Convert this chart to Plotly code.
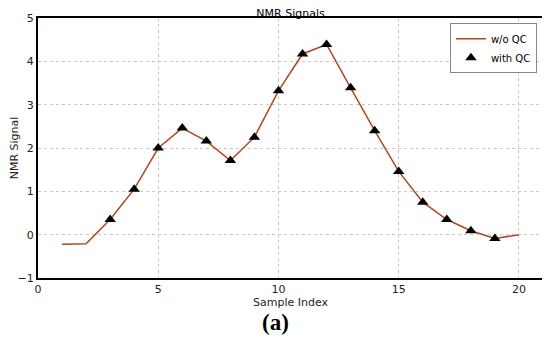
import plotly.graph_objects as go

sample_index = list(range(1, 21))
signal_wo_qc = [-0.22, -0.21, 0.35, 1.05, 2.0, 2.46, 2.16, 1.71, 2.25, 3.32,
                4.17, 4.39, 3.39, 2.40, 1.46, 0.75, 0.35, 0.09, -0.09, 0.0]
qc_index = list(range(3, 20))
signal_with_qc = [0.35, 1.05, 2.0, 2.46, 2.16, 1.71, 2.25, 3.32,
                  4.17, 4.39, 3.39, 2.40, 1.46, 0.75, 0.35, 0.09, -0.09]

x_ticks = [0, 5, 10, 15, 20]
y_ticks = [-1, 0, 1, 2, 3, 4, 5]

# page body has an 8px margin, so the figure is drawn 8px right/down
OFF = 8
W, H = 550 - OFF, 346 - OFF
L, T = 38 - OFF, 18 - OFF
R = W - (543 - OFF)
B = H - (278 - OFF)
pw = W - L - R

fig = go.Figure()
fig.add_trace(go.Scatter(x=sample_index, y=signal_wo_qc, mode="lines", name="w/o QC",
                         line=dict(color="#b0461f", width=1.5)))
fig.add_trace(go.Scatter(x=qc_index, y=signal_with_qc, mode="markers", name="with QC",
                         marker=dict(symbol="triangle-up", size=10, color="black")))

font = dict(family="DejaVu Sans", size=11, color="#222")
fig.update_layout(
    width=W, height=H,
    margin=dict(l=L, r=R, t=T, b=B, autoexpand=False),
    paper_bgcolor="white", plot_bgcolor="white",
    font=font,
    title=dict(text="NMR Signals", x=0.5, xanchor="center", xref="paper",
               y=1 - 5.6 / H, yref="container", yanchor="middle",
               font=dict(family="DejaVu Sans", size=11, color="black")),
    showlegend=True,
    legend=dict(x=0.988, y=0.98, xanchor="right", yanchor="top",
                bordercolor="#888", borderwidth=1, bgcolor="white",
                font=dict(family="DejaVu Sans", size=10, color="black"),
                tracegroupgap=0, itemwidth=30),
    xaxis=dict(range=[0, 21], tickvals=x_ticks, showgrid=True, automargin=False,
               gridcolor="#c8c8c8", griddash="dot", gridwidth=1,
               showline=True, linecolor="black", linewidth=2, mirror=True,
               ticks="", zeroline=False,
               title=dict(text="Sample Index", standoff=0, font=dict(size=11, family="DejaVu Sans"))),
    yaxis=dict(range=[-1, 5], tickvals=y_ticks, showgrid=True, automargin=False,
               gridcolor="#c8c8c8", griddash="dot", gridwidth=1,
               showline=True, linecolor="black", linewidth=2, mirror=True,
               ticks="", zeroline=False,
               title=dict(text="NMR Signal", standoff=6, font=dict(size=11, family="DejaVu Sans"))),
)
fig.add_annotation(text="<b>(a)</b>", x=(275 - OFF - L) / pw, y=0, xref="paper", yref="paper",
                   xanchor="center", yanchor="middle", yshift=-(322 - 278),
                   showarrow=False, font=dict(family="Liberation Serif", size=23, color="black"))
fig.write_html("out.html")
